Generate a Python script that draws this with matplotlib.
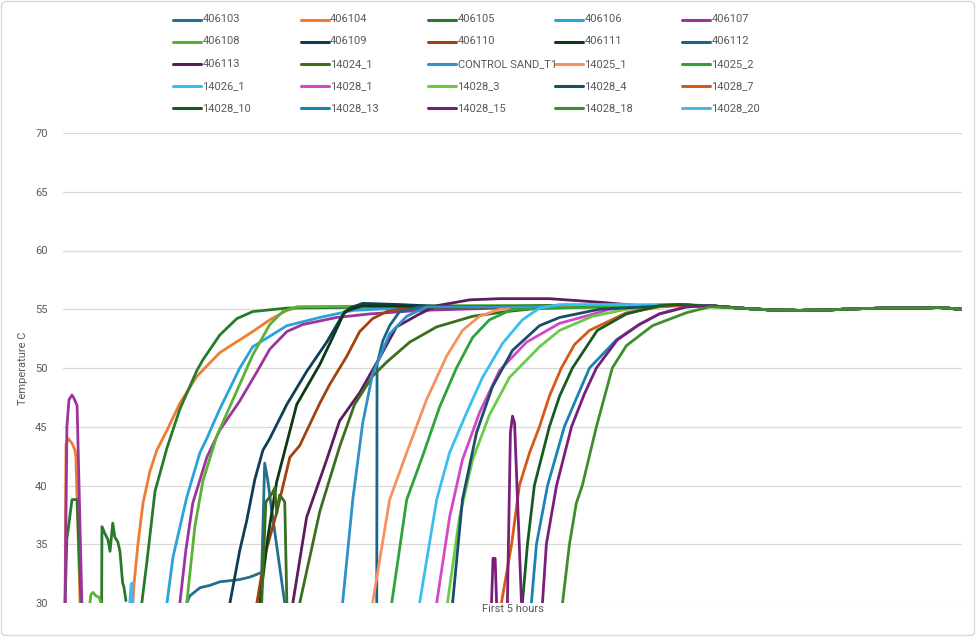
import numpy as np
import matplotlib
matplotlib.use("Agg")
import matplotlib.pyplot as plt
from matplotlib.lines import Line2D
from matplotlib.patches import FancyBboxPatch

plt.rcParams['font.family'] = ['Roboto', 'DejaVu Sans']

nan = np.nan

# time in minutes (first 5 hours), temperature in C
t_406103 = [41.3, 42.3, 45.7, 49.0, 52.3, 55.7, 59.0, 62.3, 66.3, 67.3, 68.3, 69.7, 74.0]
y_406103 = [30, 30.6, 31.3, 31.5, 31.8, 31.9, 32.0, 32.2, 32.6, 41.9, 40.5, 37.8, 30]

t_406104 = [0.7, 1.0, 1.7, 3.0, 4.0, 4.3, 5.7, nan,
            23.3, 23.7, 25.0, 26.7, 29.0, 31.3, 34.7, 39.0, 44.7, 52.3, 63.3, 69.0, 74.7, 79.0, 145.7, 205.7]
y_406104 = [30, 43.5, 44.0, 43.6, 43.0, 42.4, 30, nan,
            30, 31.6, 35.0, 38.5, 41.2, 43.0, 44.7, 47.0, 49.3, 51.3, 53.1, 54.1, 54.9, 55.2, 55.2, 55.35]

t_406105 = [0.7, 1.3, 1.7, 3.0, 4.7, 6.0, nan,
            12.9, 13.0, 14.0, 15.0, 15.7, 16.6, 17.3, 18.3, 19.0, 19.9, 20.3, 21.0, nan,
            26.3, 28.0, 30.7, 34.7, 39.0, 44.7, 46.7, 52.3, 58.0, 63.3, 74.7, 112.3, 205.7]
y_406105 = [30, 35.5, 36.2, 38.8, 38.8, 30, nan,
            30, 36.5, 35.9, 35.4, 34.4, 36.8, 35.6, 35.2, 34.4, 31.7, 31.4, 30.2, nan,
            30, 33.5, 39.5, 43.2, 46.5, 49.8, 50.7, 52.8, 54.2, 54.8, 55.1, 55.2, 55.35]

t_406106 = [34.7, 36.7, 41.3, 45.7, 48.0, 49.0, 52.3, 59.0, 63.3, 74.7, 85.7, 96.7, 112.3, 205.7]
y_406106 = [30, 33.9, 39.0, 42.8, 44.0, 44.6, 46.5, 50.0, 51.8, 53.6, 54.3, 54.9, 55.1, 55.35]

t_406107 = [0.7, 1.3, 2.0, 3.0, 3.7, 4.7, 6.3, nan,
            39.0, 41.0, 43.3, 48.0, 52.3, 59.0, 65.0, 69.0, 74.7, 80.0, 91.3, 102.3, 119.0, 145.7, 205.7]
y_406107 = [30, 45.0, 47.3, 47.7, 47.4, 46.8, 30, nan,
            30, 34.5, 38.5, 42.4, 44.7, 47.2, 49.8, 51.6, 53.1, 53.7, 54.3, 54.6, 54.9, 55.1, 55.35]

t_406108 = [9.0, 9.3, 10.0, 11.0, 12.0, 12.7, nan,
            41.3, 44.0, 46.7, 51.3, 56.7, 63.3, 69.0, 73.3, 78.0, 112.3, 205.7]
y_406108 = [30, 30.7, 30.9, 30.6, 30.5, 30, nan,
            30, 36.5, 40.4, 44.2, 47.3, 51.1, 53.7, 54.8, 55.2, 55.3, 55.35]

t_406109 = [55.7, 59.0, 61.3, 64.0, 66.7, 69.0, 74.7, 81.3, 88.0, 93.3, 95.7, 100.0, 112.3, 129.0, 205.7]
y_406109 = [30, 34.5, 37.0, 40.5, 43.0, 44.0, 46.9, 49.7, 52.2, 54.5, 55.1, 55.5, 55.4, 55.2, 55.35]

t_406110 = [64.7, 67.3, 71.3, 75.7, 79.0, 85.7, 89.0, 94.7, 99.0, 103.3, 108.0, 112.3, 129.0, 205.7]
y_406110 = [30, 34.0, 37.7, 42.4, 43.4, 47.0, 48.6, 51.0, 53.1, 54.2, 54.8, 55.0, 55.1, 55.35]

t_406111 = [65.7, 68.3, 71.3, 78.0, 85.7, 90.0, 94.0, 100.0, 129.0, 205.7]
y_406111 = [30, 35.5, 40.3, 46.9, 50.3, 52.6, 54.8, 55.3, 55.2, 55.35]

t_406112 = [104.7, 104.8, 106.7, 109.0, 112.3, 119.0, 145.7, 205.7]
y_406112 = [30, 50.3, 52.3, 53.6, 54.8, 55.2, 55.2, 55.35]

t_406113 = [76.7, 81.3, 88.0, 92.3, 99.0, 105.7, 111.3, 119.0, 124.7, 135.7, 145.7, 162.3, 179.0, 192.3, 205.7]
y_406113 = [30, 37.3, 42.2, 45.5, 47.9, 50.9, 53.5, 54.6, 55.3, 55.8, 55.9, 55.9, 55.6, 55.3, 55.35]

t_14024_1 = [66.3, 67.7, 69.7, 70.7, 71.3, 72.3, 74.0, 74.7, nan,
             79.0, 85.7, 92.3, 97.3, 103.3, 108.0, 115.7, 124.7, 136.7, 148.0, 159.0, 179.0, 205.7]
y_14024_1 = [30, 38.6, 39.3, 39.8, 37.6, 39.2, 38.6, 30, nan,
             30, 37.8, 43.3, 46.9, 49.3, 50.5, 52.2, 53.5, 54.4, 54.8, 55.1, 55.2, 55.35]

t_control = [93.3, 96.7, 100.0, 103.3, 109.0, 114.7, 121.3, 145.7, 205.7]
y_control = [30, 38.8, 45.3, 49.5, 52.9, 54.4, 55.2, 55.2, 55.35]

t_14025_1 = [103.3, 109.0, 114.7, 121.3, 128.0, 133.3, 139.0, 145.7, 179.0, 205.7]
y_14025_1 = [30, 38.8, 42.8, 47.3, 51.0, 53.2, 54.4, 55.0, 55.2, 55.35]

t_14025_2 = [109.7, 114.7, 120.0, 125.7, 131.3, 136.7, 142.3, 150.0, 179.0, 205.7]
y_14025_2 = [30, 38.8, 42.5, 46.7, 50.0, 52.6, 54.1, 55.0, 55.2, 55.35]

t_14026_1 = [119.0, 124.7, 129.0, 134.7, 140.0, 146.7, 153.3, 159.0, 165.7, 185.7, 205.7]
y_14026_1 = [30, 38.8, 42.8, 46.2, 49.2, 52.1, 54.1, 55.1, 55.4, 55.4, 55.35]

t_14028_1 = [124.7, 129.0, 133.3, 139.0, 145.7, 154.7, 165.7, 175.7, 182.3, 205.7]
y_14028_1 = [30, 37.3, 42.2, 46.2, 49.8, 52.2, 53.8, 54.5, 55.0, 55.35]

t_14028_3 = [128.3, 132.3, 136.7, 142.3, 149.0, 159.0, 165.7, 176.7, 188.0, 205.7]
y_14028_3 = [30, 37.3, 42.2, 46.0, 49.2, 51.8, 53.2, 54.4, 55.0, 55.35]

t_14028_4 = [130.0, 133.3, 138.0, 143.3, 150.0, 159.0, 165.7, 179.0, 205.7]
y_14028_4 = [30, 38.8, 44.5, 48.4, 51.5, 53.6, 54.3, 55.0, 55.35]

t_14028_7 = [146.3, 149.7, 152.3, 155.7, 159.0, 162.3, 166.3, 170.7, 175.7, 188.0, 199.0, 205.7]
y_14028_7 = [30, 35.0, 40.0, 42.8, 45.0, 47.6, 50.0, 52.0, 53.2, 54.7, 55.2, 55.3]

t_14028_10 = [153.3, 155.0, 157.3, 162.3, 165.7, 170.0, 178.3, 188.0, 199.0, 205.7]
y_14028_10 = [30, 35.0, 40.0, 45.0, 47.6, 50.0, 53.2, 54.6, 55.3, 55.4]

t_14028_13 = [156.3, 158.0, 161.7, 167.3, 171.3, 175.7, 184.7, 192.3, 199.0, 208.0]
y_14028_13 = [30, 35.0, 40.0, 45.0, 47.4, 50.0, 52.4, 53.7, 54.6, 55.2]

t_14028_15 = [143.0, 143.5, 144.2, 144.7, nan,
              148.3, 149.3, 150.0, 150.7, 153.0, nan,
              160.0, 161.3, 164.7, 169.7, 174.0, 178.0, 185.0, 192.3, 199.0, 208.0]
y_14028_15 = [30, 33.8, 33.8, 30, nan,
              30, 44.5, 45.9, 45.3, 30, nan,
              30, 35.0, 40.0, 45.0, 47.8, 50.0, 52.4, 53.7, 54.6, 55.2]

t_14028_18 = [166.7, 169.0, 171.3, 173.3, 178.0, 183.3, 188.0, 196.7, 208.0, 215.7]
y_14028_18 = [30, 35.0, 38.5, 40.0, 45.0, 50.0, 51.9, 53.6, 54.7, 55.2]

t_14028_20 = [22.3, 22.7, 23.0, 23.3]
y_14028_20 = [30, 31.5, 31.7, 30]

# common plateau all probes settle onto
tail_t = [215.7, 225.7, 235.7, 245.7, 255.7, 265.7, 275.7, 285.7, 292.3, 299.7]
tail_y = [55.3, 55.1, 54.95, 54.9, 54.95, 55.05, 55.1, 55.1, 55.15, 55.0]

names = ['406103', '406104', '406105', '406106', '406107',
         '406108', '406109', '406110', '406111', '406112',
         '406113', '14024_1', 'CONTROL SAND_T1', '14025_1', '14025_2',
         '14026_1', '14028_1', '14028_3', '14028_4', '14028_7',
         '14028_10', '14028_13', '14028_15', '14028_18', '14028_20']
colors = ['#246E92', '#EE7D33', '#267A2C', '#2AA3DA', '#9E339E',
          '#5BB036', '#0F3D56', '#A3410F', '#0D3A14', '#1A6688',
          '#5C1C5E', '#3A6F1F', '#2E90CC', '#F4935E', '#2DA33A',
          '#3ABEF0', '#D447C8', '#6BCB45', '#1B4D6A', '#D45A16',
          '#165C20', '#1A83B6', '#7B1E7B', '#3D8F2B', '#4BB6E8']
ts = [t_406103, t_406104, t_406105, t_406106, t_406107,
      t_406108, t_406109, t_406110, t_406111, t_406112,
      t_406113, t_14024_1, t_control, t_14025_1, t_14025_2,
      t_14026_1, t_14028_1, t_14028_3, t_14028_4, t_14028_7,
      t_14028_10, t_14028_13, t_14028_15, t_14028_18, t_14028_20]
ys = [y_406103, y_406104, y_406105, y_406106, y_406107,
      y_406108, y_406109, y_406110, y_406111, y_406112,
      y_406113, y_14024_1, y_control, y_14025_1, y_14025_2,
      y_14026_1, y_14028_1, y_14028_3, y_14028_4, y_14028_7,
      y_14028_10, y_14028_13, y_14028_15, y_14028_18, y_14028_20]
no_tail = ['406103', '14028_20']

W, H = 976, 637
fig = plt.figure(figsize=(W / 100, H / 100), dpi=100)
ax = fig.add_axes([63 / W, 1 - 603 / H, (962 - 63) / W, (603 - 133) / H])

for name, c, t, y in zip(names, colors, ts, ys):
    t = list(t)
    y = list(y)
    if name not in no_tail:
        for tt, yy in zip(tail_t, tail_y):
            if tt > t[-1]:
                t.append(tt)
                y.append(yy)
    ax.plot(t, y, color=c, lw=2.0, solid_joinstyle='round', solid_capstyle='round')

ax.set_xlim(0, 300)
ax.set_ylim(30, 70)
ax.set_yticks([30, 35, 40, 45, 50, 55, 60, 65, 70])
ax.set_xticks([])
ax.grid(axis='y', color='#D9D9D9', lw=0.9)
ax.set_axisbelow(True)
for s in ax.spines.values():
    s.set_visible(False)
ax.tick_params(axis='y', length=0, pad=11, labelsize=8, labelcolor='#595959')
ax.set_ylabel('Temperature C', fontsize=8, color='#595959', labelpad=5)
ax.set_xlabel('First 5 hours', fontsize=8, color='#595959', labelpad=1)

# legend, 5 columns x 5 rows across the top
col_x = [173, 300.5, 428, 555, 682]
row_y = [19.5, 41.5, 64, 86, 108]
for i, (name, c) in enumerate(zip(names, colors)):
    r, k = divmod(i, 5)
    x0 = col_x[k]
    yy = 1 - row_y[r] / H
    fig.add_artist(Line2D([x0 / W, (x0 + 28) / W], [yy, yy], color=c, lw=2.2,
                          solid_capstyle='round', transform=fig.transFigure))
    fig.text((x0 + 29.5) / W, yy, name, fontsize=8, color='#595959', va='center', ha='left')

fig.add_artist(FancyBboxPatch((1.5 / W, 1.5 / H), (W - 3) / W, (H - 3) / H,
                              boxstyle='round,pad=0,rounding_size=0.006',
                              transform=fig.transFigure, fill=False,
                              edgecolor='#D9D9D9', lw=1.0))

fig.savefig('out.png', dpi=100)
